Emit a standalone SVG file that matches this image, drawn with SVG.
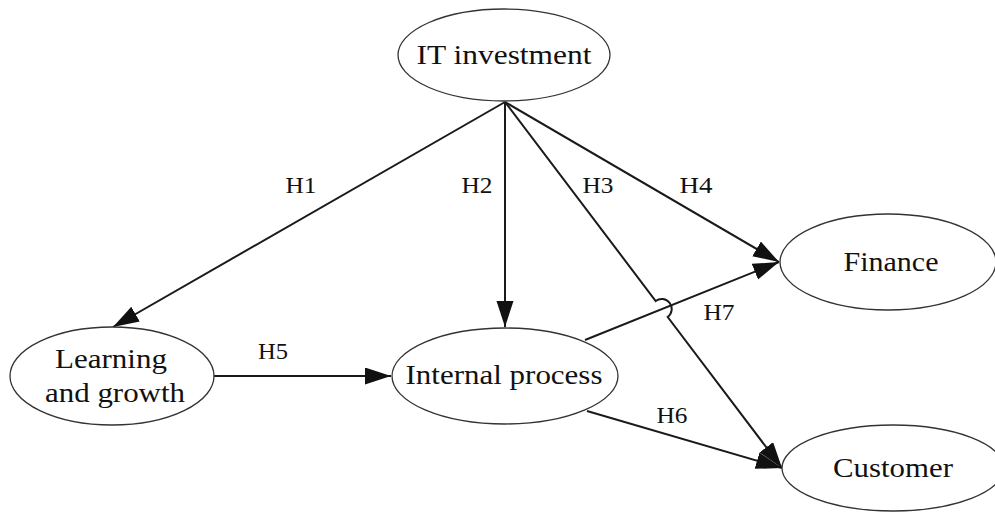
<svg xmlns="http://www.w3.org/2000/svg" width="995" height="512" viewBox="0 0 995 512">
  <style>
    .node ellipse { fill: #ffffff; stroke: #333333; stroke-width: 1.3; }
    .node text { font-family: "Liberation Serif", "Times New Roman", serif; font-size: 28px; fill: #111111; text-anchor: middle; }
    .edge { fill: none; stroke: #1a1a1a; stroke-width: 2; }
    .lbl { font-family: "Liberation Serif", "Times New Roman", serif; font-size: 23px; fill: #111111; text-anchor: middle; }
  </style>
  <defs>
    <marker id="arrow" markerUnits="userSpaceOnUse" markerWidth="27" markerHeight="18" refX="26" refY="8.5" orient="auto">
      <path d="M0,0 L26,8.5 L0,17 Z" fill="#111111"/>
    </marker>
  </defs>

  <rect width="995" height="512" fill="#ffffff"/>

  <!-- connectors -->
  <g id="connectors">
    <line id="e-h1" class="edge" x1="505" y1="102" x2="113" y2="327" marker-end="url(#arrow)"/>
    <line id="e-h2" class="edge" x1="505" y1="102" x2="505" y2="327" marker-end="url(#arrow)"/>
    <!-- H3 hops over H7 at the crossing -->
    <path id="e-h3" class="edge" d="M505,102 L655.7,301 A10,10 0 0 1 667.7,317 L782,468" marker-end="url(#arrow)"/>
    <line id="e-h4" class="edge" x1="505" y1="102" x2="779" y2="262" marker-end="url(#arrow)"/>
    <line id="e-h5" class="edge" x1="213" y1="376" x2="391" y2="376" marker-end="url(#arrow)"/>
    <line id="e-h6" class="edge" x1="587" y1="411" x2="782" y2="468" marker-end="url(#arrow)"/>
    <line id="e-h7" class="edge" x1="585" y1="340" x2="779" y2="262" marker-end="url(#arrow)"/>

    <text class="lbl" x="301" y="193" textLength="31" lengthAdjust="spacingAndGlyphs">H1</text>
    <text class="lbl" x="477" y="193" textLength="31" lengthAdjust="spacingAndGlyphs">H2</text>
    <text class="lbl" x="598" y="193" textLength="31" lengthAdjust="spacingAndGlyphs">H3</text>
    <text class="lbl" x="696" y="193" textLength="33" lengthAdjust="spacingAndGlyphs">H4</text>
    <text class="lbl" x="273" y="359" textLength="30" lengthAdjust="spacingAndGlyphs">H5</text>
    <text class="lbl" x="672" y="423" textLength="31" lengthAdjust="spacingAndGlyphs">H6</text>
    <text class="lbl" x="719" y="320" textLength="31" lengthAdjust="spacingAndGlyphs">H7</text>
  </g>

  <!-- nodes -->
  <g id="n-it" class="node">
    <ellipse cx="504" cy="55" rx="106" ry="46"/>
    <text x="504" y="64" textLength="175" lengthAdjust="spacingAndGlyphs">IT investment</text>
  </g>

  <g id="n-learning" class="node">
    <ellipse cx="112" cy="376" rx="102" ry="49"/>
    <text x="111" y="368" textLength="112" lengthAdjust="spacingAndGlyphs">Learning</text>
    <text x="115" y="402" textLength="140" lengthAdjust="spacingAndGlyphs">and growth</text>
  </g>

  <g id="n-internal" class="node">
    <ellipse cx="505" cy="376" rx="113" ry="48"/>
    <text x="504" y="384" textLength="197" lengthAdjust="spacingAndGlyphs">Internal process</text>
  </g>

  <g id="n-finance" class="node">
    <ellipse cx="888" cy="262" rx="108" ry="48"/>
    <text x="891" y="271" textLength="95" lengthAdjust="spacingAndGlyphs">Finance</text>
  </g>

  <g id="n-customer" class="node">
    <ellipse cx="893" cy="468" rx="111" ry="43"/>
    <text x="893" y="477" textLength="120" lengthAdjust="spacingAndGlyphs">Customer</text>
  </g>
</svg>
